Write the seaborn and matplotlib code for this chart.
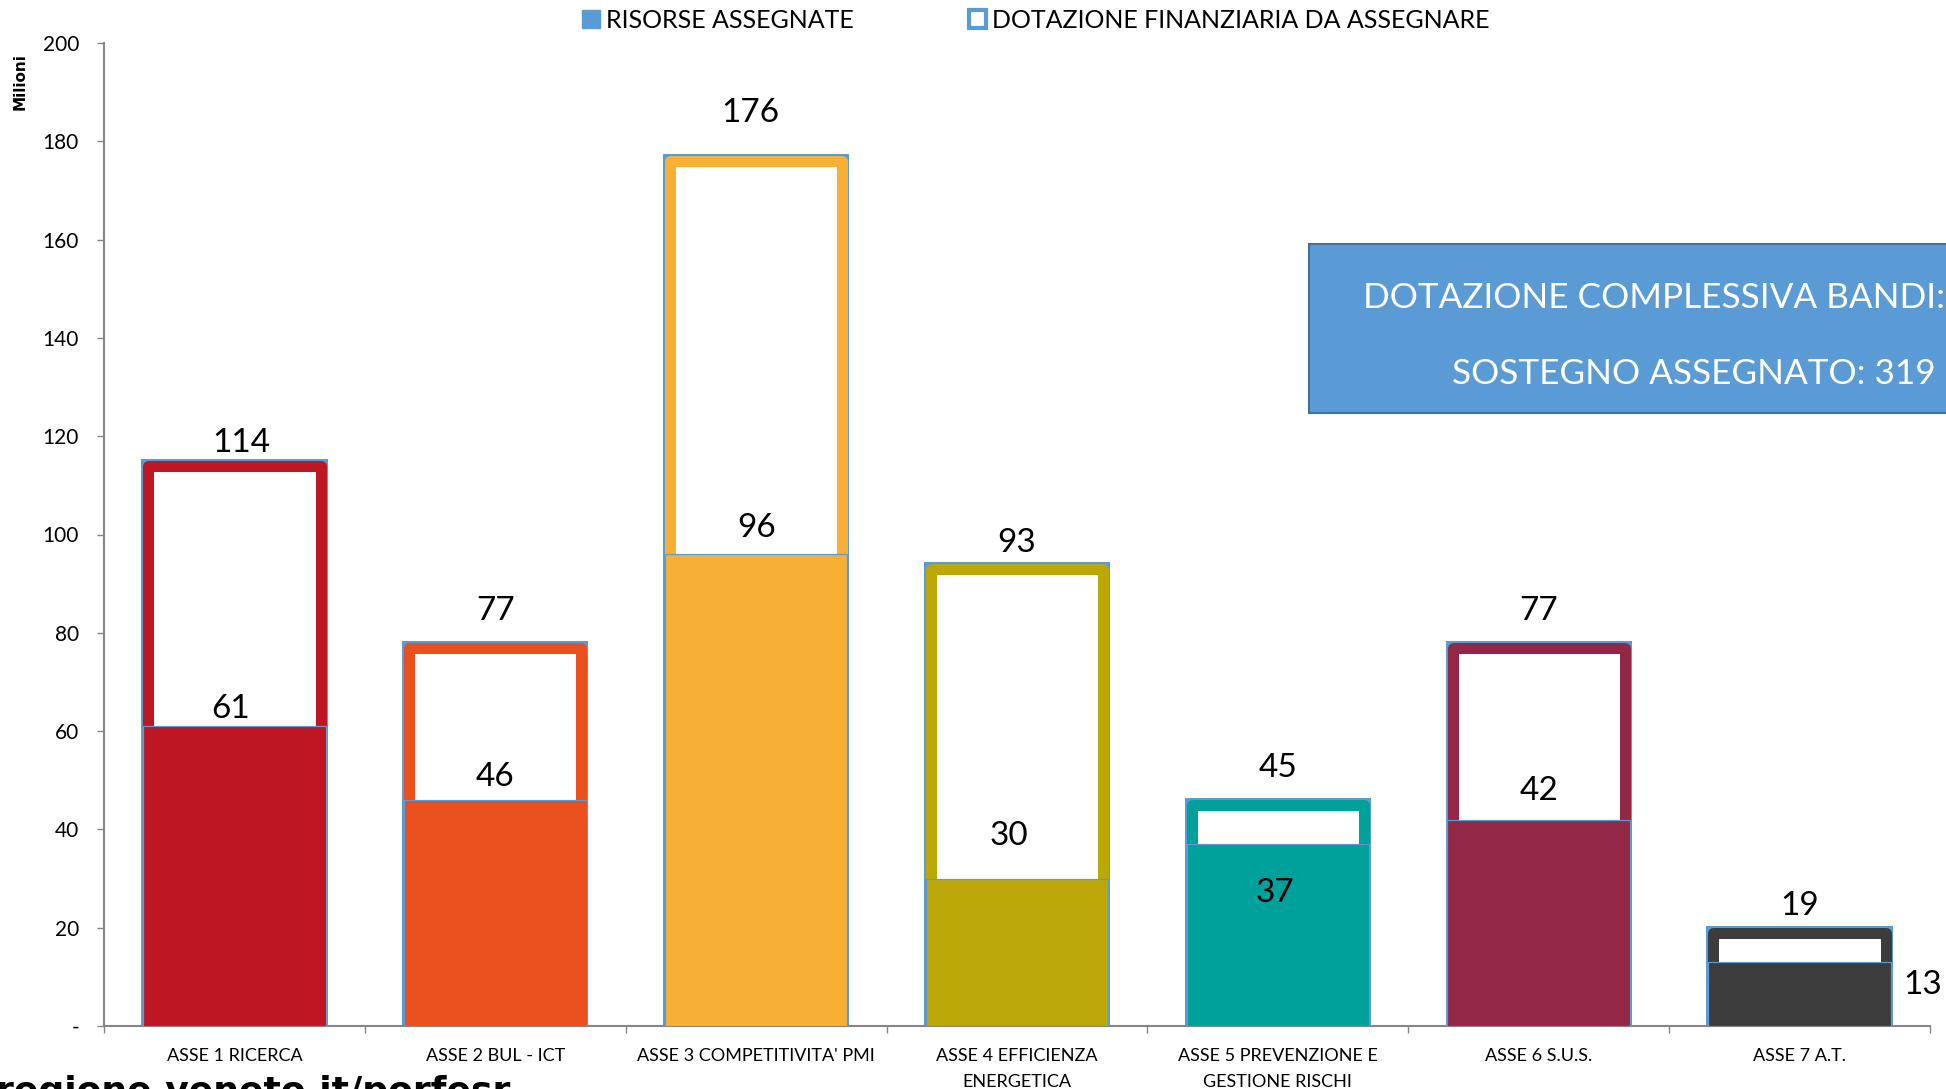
import matplotlib
matplotlib.use("Agg")
import matplotlib.pyplot as plt
import seaborn as sns
import numpy as np
import pandas as pd
from matplotlib import font_manager
from matplotlib.patches import Rectangle, Patch

# ---------------- data ----------------
categories = ["ASSE 1 RICERCA", "ASSE 2 BUL - ICT", "ASSE 3 COMPETITIVITA' PMI",
              "ASSE 4 EFFICIENZA\nENERGETICA", "ASSE 5 PREVENZIONE E\nGESTIONE RISCHI",
              "ASSE 6 S.U.S.", "ASSE 7 A.T."]
dotazione = [114, 77, 176, 93, 45, 77, 19]      # total allocation (bar outline)
assegnate = [61, 46, 96, 30, 37, 42, 13]        # assigned resources (filled part)
y_ticks = [0, 20, 40, 60, 80, 100, 120, 140, 160, 180, 200]
y_tick_labels = ["-", "20", "40", "60", "80", "100", "120", "140", "160", "180", "200"]
legend_labels = ["RISORSE ASSEGNATE", "DOTAZIONE FINANZIARIA DA ASSEGNARE"]
box_lines = ["DOTAZIONE COMPLESSIVA BANDI:", "SOSTEGNO ASSEGNATO: 319"]
y_label = "Milioni"
source_text = "regione.veneto.it/porfesr"

# ---------------- style ----------------
colors = ["#BE1622", "#E9501E", "#F7B035", "#BBA707", "#00A19A", "#922846", "#3C3C3C"]
BLUE = "#5B9BD5"
GRID = "#868686"
total_label_offsets = [(5, 16.5), (0, 26.5), (-4, 34.5), (0, 18.5), (0, 26.5), (0, 26.5), (0, 19.5)]
assigned_label_offsets = [(-3, 12.5), (0, 16.5), (0, 18.5), (-6, 30.5), (-2, -35.5), (0, 20.5), (89, -16.5)]


def pick(names):
    for n in names:
        try:
            font_manager.findfont(font_manager.FontProperties(family=n), fallback_to_default=False)
            return n
        except Exception:
            pass
    return "DejaVu Sans"


MAIN = pick(["Liberation Sans Narrow", "Lato"])

sns.set_theme(style="white")
plt.rcParams["font.family"] = [MAIN, "DejaVu Sans"]
plt.rcParams["text.color"] = "black"

PX = 0.72  # points per pixel at dpi 100

fig = plt.figure(figsize=(19.46, 10.89), dpi=100)
ax = fig.add_axes([104 / 1946, 1 - 1026 / 1089, (1930 - 104) / 1946, (1026 - 43) / 1089])

df = pd.DataFrame({"asse": categories, "dotazione": dotazione, "assegnate": assegnate})

# layer 1: light-blue glow around the outline
sns.barplot(data=df, x="asse", y="dotazione", color="white", saturation=1, width=0.66,
            linewidth=14 * PX, edgecolor=BLUE, errorbar=None, ax=ax, zorder=2)
# layer 2: coloured thick border
n0 = len(ax.patches)
sns.barplot(data=df, x="asse", y="dotazione", color="white", saturation=1, width=0.66,
            linewidth=11 * PX, edgecolor="black", errorbar=None, ax=ax, zorder=3)
for p, c in zip(ax.patches[n0:], colors):
    p.set_edgecolor(c)
    p.set_joinstyle("round")
# layer 3: filled assigned resources
sns.barplot(data=df, x="asse", y="assegnate", hue="asse", palette=colors, saturation=1,
            legend=False, width=0.70, linewidth=1.2 * PX, edgecolor=BLUE, errorbar=None,
            ax=ax, zorder=4)

ax.set_xlim(-0.5, 6.5)
ax.set_ylim(0, 200)
ax.set_xlabel("")
ax.set_ylabel("")
sns.despine(ax=ax)
for s in ["left", "bottom"]:
    ax.spines[s].set_color(GRID)
    ax.spines[s].set_linewidth(1.5)

ax.set_yticks(y_ticks, y_tick_labels)
ax.tick_params(axis="y", left=True, length=5, width=1, color=GRID, pad=13,
               labelsize=15, labelcolor="black")
ax.set_xticks(range(len(categories)), categories)
ax.tick_params(axis="x", which="major", length=0, pad=16, labelsize=13, labelcolor="black")
for lbl in ax.get_xticklabels():
    lbl.set_linespacing(1.75)
ax.set_xticks(np.arange(-0.5, len(categories), 1), minor=True)
ax.tick_params(axis="x", which="minor", bottom=True, length=5, width=1, color=GRID)

# value labels
for i, (t, a) in enumerate(zip(dotazione, assegnate)):
    dx, dy = total_label_offsets[i]
    ax.annotate(f"{t}", (i, t), xytext=(dx, dy), textcoords="offset points",
                ha="center", va="center", fontsize=24, zorder=6, annotation_clip=False)
    dx, dy = assigned_label_offsets[i]
    ax.annotate(f"{a}", (i, a), xytext=(dx, dy), textcoords="offset points",
                ha="center", va="center", fontsize=24, zorder=6, annotation_clip=False)

# legend
handles = [Patch(facecolor=BLUE, edgecolor=BLUE),
           Patch(facecolor="white", edgecolor=BLUE, linewidth=3)]
fig.legend(handles, legend_labels, loc="center", bbox_to_anchor=(1036 / 1946, 1 - 20 / 1089),
           ncol=2, frameon=False, fontsize=18, handlelength=0.7, handleheight=0.7,
           handletextpad=0.25, columnspacing=4.6, borderpad=0)

# info box
fig.add_artist(Rectangle((1309 / 1946, 1 - 413 / 1089), 1.0, (413 - 244) / 1089,
                         transform=fig.transFigure, facecolor=BLUE, edgecolor="#41719C",
                         linewidth=1.5, zorder=5))
fig.text(1363 / 1946, 1 - 298 / 1089, box_lines[0], color="white", fontsize=25.3,
         ha="left", va="center", zorder=6)
fig.text(1452 / 1946, 1 - 374 / 1089, box_lines[1], color="white", fontsize=25.3,
         ha="left", va="center", zorder=6)

# y-axis title
fig.text(20 / 1946, 1 - 82 / 1089, y_label, rotation=90, fontweight="bold",
         family="DejaVu Sans", fontsize=11, ha="center", va="center")

# source (cut off at bottom)
fig.text(-4 / 1946, 1 - 1102 / 1089, source_text, fontsize=26, fontweight="bold",
         family="DejaVu Sans", ha="left", va="baseline")

fig.savefig("out.png", dpi=100)
